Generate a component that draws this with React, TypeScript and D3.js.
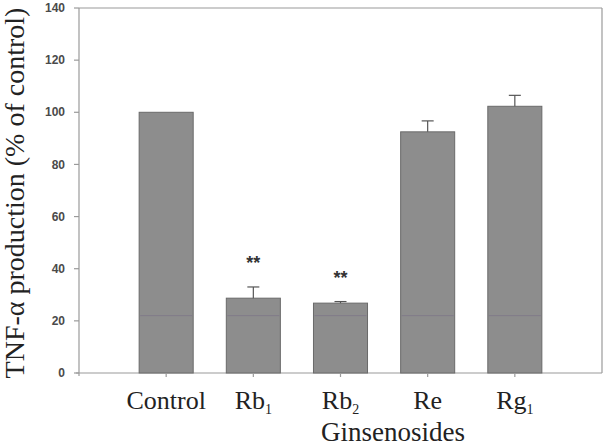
import React from "react";
import * as d3 from "d3";

// chart data
const categories = ["Control", "Rb1", "Rb2", "Re", "Rg1"];
const labelBase = ["Control", "Rb", "Rb", "Re", "Rg"];
const labelSub = ["", "1", "2", "", "1"];
const values = [100, 28.7, 26.8, 92.5, 102.3];
const errors = [0, 4.3, 0.6, 4.2, 4.2];
const marks = ["", "**", "**", "", ""];
const yTicks = [0, 20, 40, 60, 80, 100, 120, 140];
const scanLineValue = 22; // faint line visible through every bar

const W = 609;
const H = 448;
const margin = { top: 8, right: 7, bottom: 75, left: 79 };

const App = () => {
  const x = d3
    .scalePoint<string>()
    .domain(categories)
    .range([margin.left, W - margin.right])
    .padding(1);
  const y = d3
    .scaleLinear()
    .domain([0, 140])
    .range([H - margin.bottom, margin.top]);

  const barW = x.step() * 0.62;
  const x0 = margin.left;
  const x1 = W - margin.right;
  const y0 = y(0);
  const yTop = y(140);
  const axisColor = "#9a9a9a";

  return (
    <svg
      width={W}
      height={H}
      style={{ position: "absolute", left: 0, top: 0, background: "#fff" }}
    >
      {/* frame */}
      <line x1={x0} x2={x0} y1={yTop} y2={y0 + 3} stroke={axisColor} strokeWidth={1.2} />
      <line x1={x0 - 3} x2={x1} y1={y0} y2={y0} stroke={axisColor} strokeWidth={1.2} />
      <line x1={x0} x2={x1} y1={yTop} y2={yTop} stroke={axisColor} strokeWidth={1.2} />
      <line x1={x1} x2={x1} y1={yTop} y2={y0} stroke={axisColor} strokeWidth={1.2} />

      {/* y ticks */}
      {yTicks.map((t) => (
        <g key={t}>
          <line x1={x0 - 5} x2={x0} y1={y(t)} y2={y(t)} stroke={axisColor} strokeWidth={1.2} />
          <text
            x={x0 - 14}
            y={y(t)}
            dy="0.35em"
            textAnchor="end"
            fontFamily="Liberation Sans, Arial, sans-serif"
            fontSize={12}
            fontWeight="bold"
            fill="#4a4a4a"
          >
            {t}
          </text>
        </g>
      ))}

      {/* bars */}
      {categories.map((c, i) => {
        const cx = x(c) as number;
        const top = y(values[i]);
        const capY = y(values[i] + errors[i]);
        return (
          <g key={c}>
            <rect
              x={cx - barW / 2}
              y={top}
              width={barW}
              height={y0 - top}
              fill="#8d8d8d"
              stroke="#6a6a6a"
              strokeWidth={1}
            />
            <line
              x1={cx - barW / 2 + 1}
              x2={cx + barW / 2 - 1}
              y1={y(scanLineValue)}
              y2={y(scanLineValue)}
              stroke="#7a7088"
              strokeWidth={1}
              opacity={0.6}
            />
            {errors[i] > 0 && (
              <g stroke="#555" strokeWidth={1.2}>
                <line x1={cx} x2={cx} y1={top} y2={capY} />
                <line x1={cx - 6} x2={cx + 6} y1={capY} y2={capY} />
              </g>
            )}
            {marks[i] && (
              <text
                x={cx}
                y={capY - 18}
                textAnchor="middle"
                fontFamily="Liberation Sans, Arial, sans-serif"
                fontSize={18}
                fontWeight="bold"
                fill="#333"
              >
                {marks[i]}
              </text>
            )}
            <line x1={cx} x2={cx} y1={y0} y2={y0 + 4} stroke={axisColor} strokeWidth={1.2} />
            <text
              x={cx}
              y={409}
              textAnchor="middle"
              fontFamily="Liberation Serif, Times New Roman, serif"
              fontSize={26}
              fill="#222"
            >
              {labelBase[i]}
              {labelSub[i] && (
                <tspan fontSize={14} dy={5}>
                  {labelSub[i]}
                </tspan>
              )}
            </text>
          </g>
        );
      })}

      {/* axis titles */}
      <text
        x={393}
        y={441}
        textAnchor="middle"
        fontFamily="Liberation Serif, Times New Roman, serif"
        fontSize={27}
        fill="#222"
      >
        Ginsenosides
      </text>
      <text
        transform={`translate(24, 193) rotate(-90)`}
        textAnchor="middle"
        fontFamily="Liberation Serif, Times New Roman, serif"
        fontSize={28}
        fill="#222"
      >
        TNF-α production (% of control)
      </text>
    </svg>
  );
};

export default App;
